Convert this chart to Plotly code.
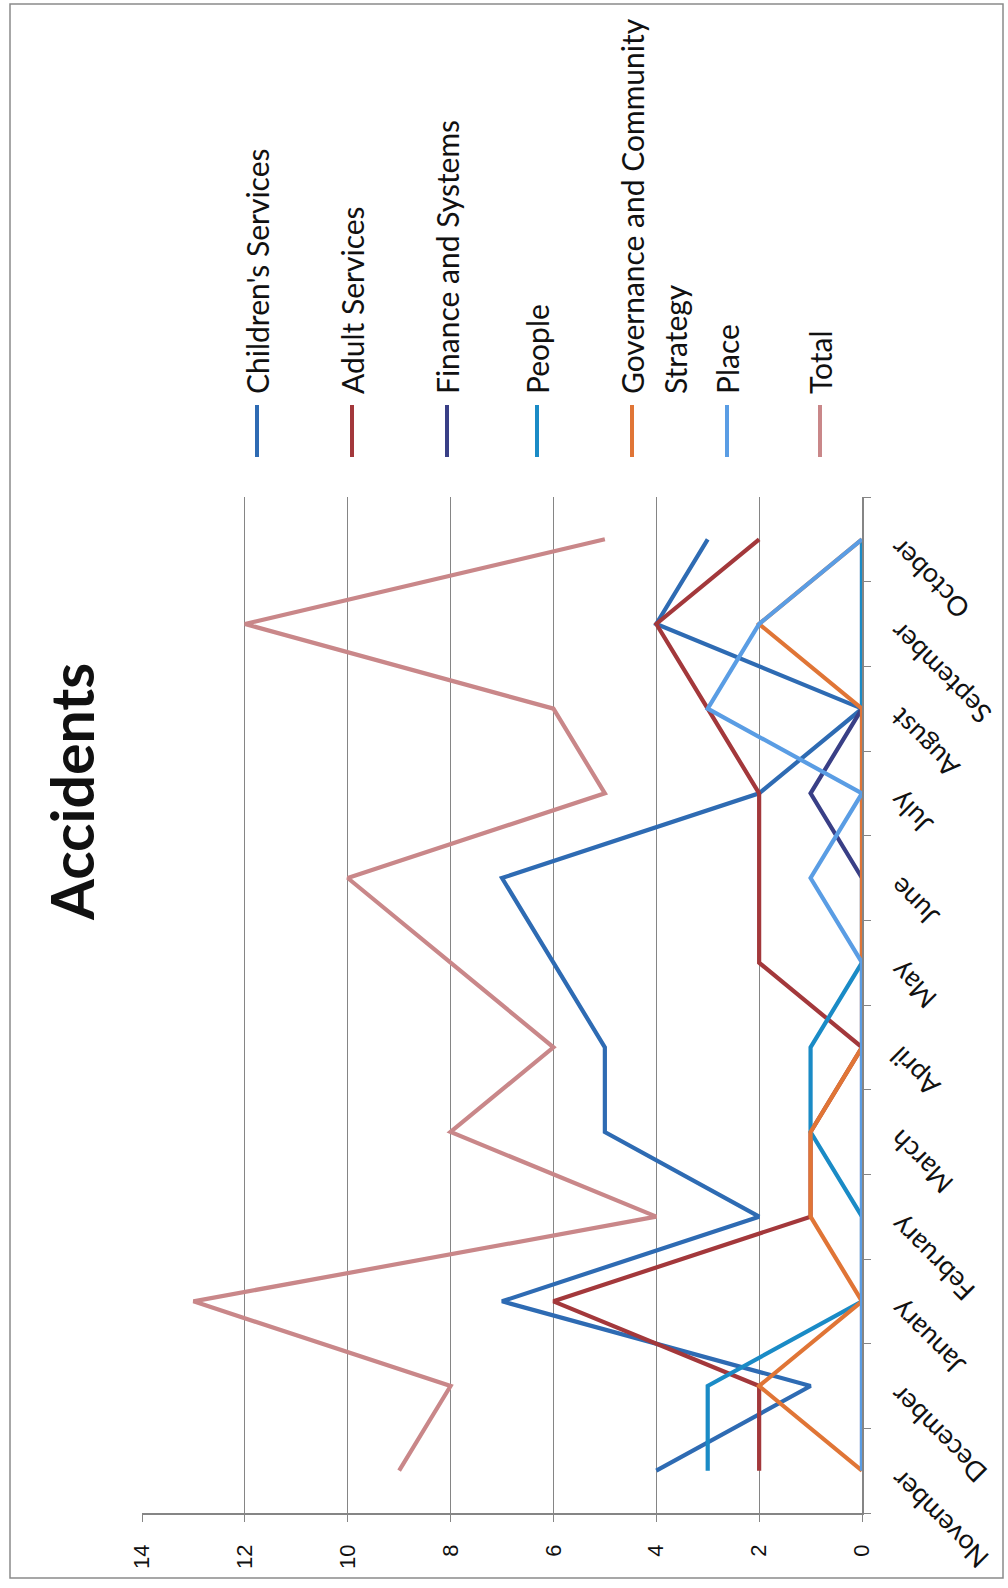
import plotly.graph_objects as go

# Monthly accident counts by directorate
months = ["November", "December", "January", "February", "March", "April",
          "May", "June", "July", "August", "September", "October"]

childrens_services = [4, 1, 7, 2, 5, 5, 6, 7, 2, 0, 4, 3]
adult_services = [2, 2, 6, 1, 1, 0, 2, 2, 2, 3, 4, 2]
finance_and_systems = [0, 0, 0, 0, 0, 0, 0, 0, 1, 0, 0, 0]
people = [3, 3, 0, 0, 1, 1, 0, 0, 0, 0, 0, 0]
governance = [0, 2, 0, 1, 1, 0, 0, 0, 0, 0, 2, 0]
place = [0, 0, 0, 0, 0, 0, 0, 1, 0, 3, 2, 0]
total = [9, 8, 13, 4, 8, 6, 8, 10, 5, 6, 12, 5]

value_ticks = [0, 2, 4, 6, 8, 10, 12, 14]

series = [
    ("Children's Services", childrens_services, "#2E6BB3"),
    ("Adult Services", adult_services, "#A3383B"),
    ("Finance and Systems", finance_and_systems, "#393F86"),
    ("People", people, "#1A8BC6"),
    ("Governance and Community Strategy", governance, "#E07536"),
    ("Place", place, "#5A9DE4"),
    ("Total", total, "#C98789"),
]

W, H = 1008, 1588
L, R, T, B = 142, 862, 497, 1513   # plot area in pixels


def px(xp):
    return (xp - L) / (R - L)


def py(yp):
    return (B - yp) / (B - T)


FONT = "Lato"
GRID = "#858585"

fig = go.Figure()
for name, vals, color in series:
    fig.add_trace(go.Scatter(x=vals, y=months, mode="lines", name=name,
                             line=dict(color=color, width=4.2),
                             showlegend=False))

annotations = []
shapes = []

# Rotated chart title
annotations.append(dict(x=px(71), y=py(792), xref="paper", yref="paper",
                        text="<b>Accidents</b>", textangle=-90, showarrow=False,
                        xanchor="center", yanchor="middle",
                        font=dict(family=FONT, size=59, color="#111111")))

# Month labels along the category axis
for m in months:
    annotations.append(dict(x=1, xref="paper", xshift=18, y=m, yref="y",
                            yshift=10, text=m, textangle=-135, showarrow=False,
                            xanchor="left", yanchor="top",
                            font=dict(family=FONT, size=27, color="#111111")))

# Legend: vertical swatches with rotated labels
legend_x = [257, 352, 447, 537, 632, 727, 820]
legend_text = ["Children's Services", "Adult Services", "Finance and Systems",
               "People", "Governance and Community", "Place", "Total"]
for (name, vals, color), lx, txt in zip(series, legend_x, legend_text):
    shapes.append(dict(type="line", xref="paper", yref="paper",
                       x0=px(lx), x1=px(lx), y0=py(405), y1=py(457),
                       line=dict(color=color, width=4)))
    annotations.append(dict(x=px(lx), y=py(396), xref="paper", yref="paper",
                            text=txt, textangle=-90, showarrow=False,
                            xanchor="center", yanchor="bottom",
                            font=dict(family=FONT, size=30, color="#111111")))
annotations.append(dict(x=px(675), y=py(396), xref="paper", yref="paper",
                        text="Strategy", textangle=-90, showarrow=False,
                        xanchor="center", yanchor="bottom",
                        font=dict(family=FONT, size=30, color="#111111")))

# Outer chart border
shapes.append(dict(type="rect", xref="paper", yref="paper",
                   x0=px(10), x1=px(1003), y0=py(4), y1=py(1578),
                   line=dict(color="#8A8A8A", width=1.5)))

fig.update_layout(
    width=W, height=H,
    margin=dict(l=L, r=W - R, t=T, b=H - B),
    paper_bgcolor="white", plot_bgcolor="white",
    font=dict(family=FONT, color="#111111"),
    annotations=annotations, shapes=shapes,
    xaxis=dict(range=[14, 0], tickvals=value_ticks, tickangle=-90,
               showgrid=True, gridcolor=GRID, gridwidth=1,
               showline=True, linecolor=GRID, linewidth=1.5,
               ticks="outside", ticklen=7, tickcolor=GRID,
               ticklabelstandoff=14,
               tickfont=dict(family="Liberation Sans", size=22, color="#111111"),
               zeroline=False, fixedrange=True),
    yaxis=dict(type="category", categoryorder="array", categoryarray=months,
               range=[-0.5, 11.5], side="right", showticklabels=False,
               showgrid=False, showline=True, linecolor=GRID, linewidth=1.5,
               ticks="outside", tickson="boundaries", ticklen=7, tickcolor=GRID,
               zeroline=False, fixedrange=True),
)

fig.write_html("out.html")
